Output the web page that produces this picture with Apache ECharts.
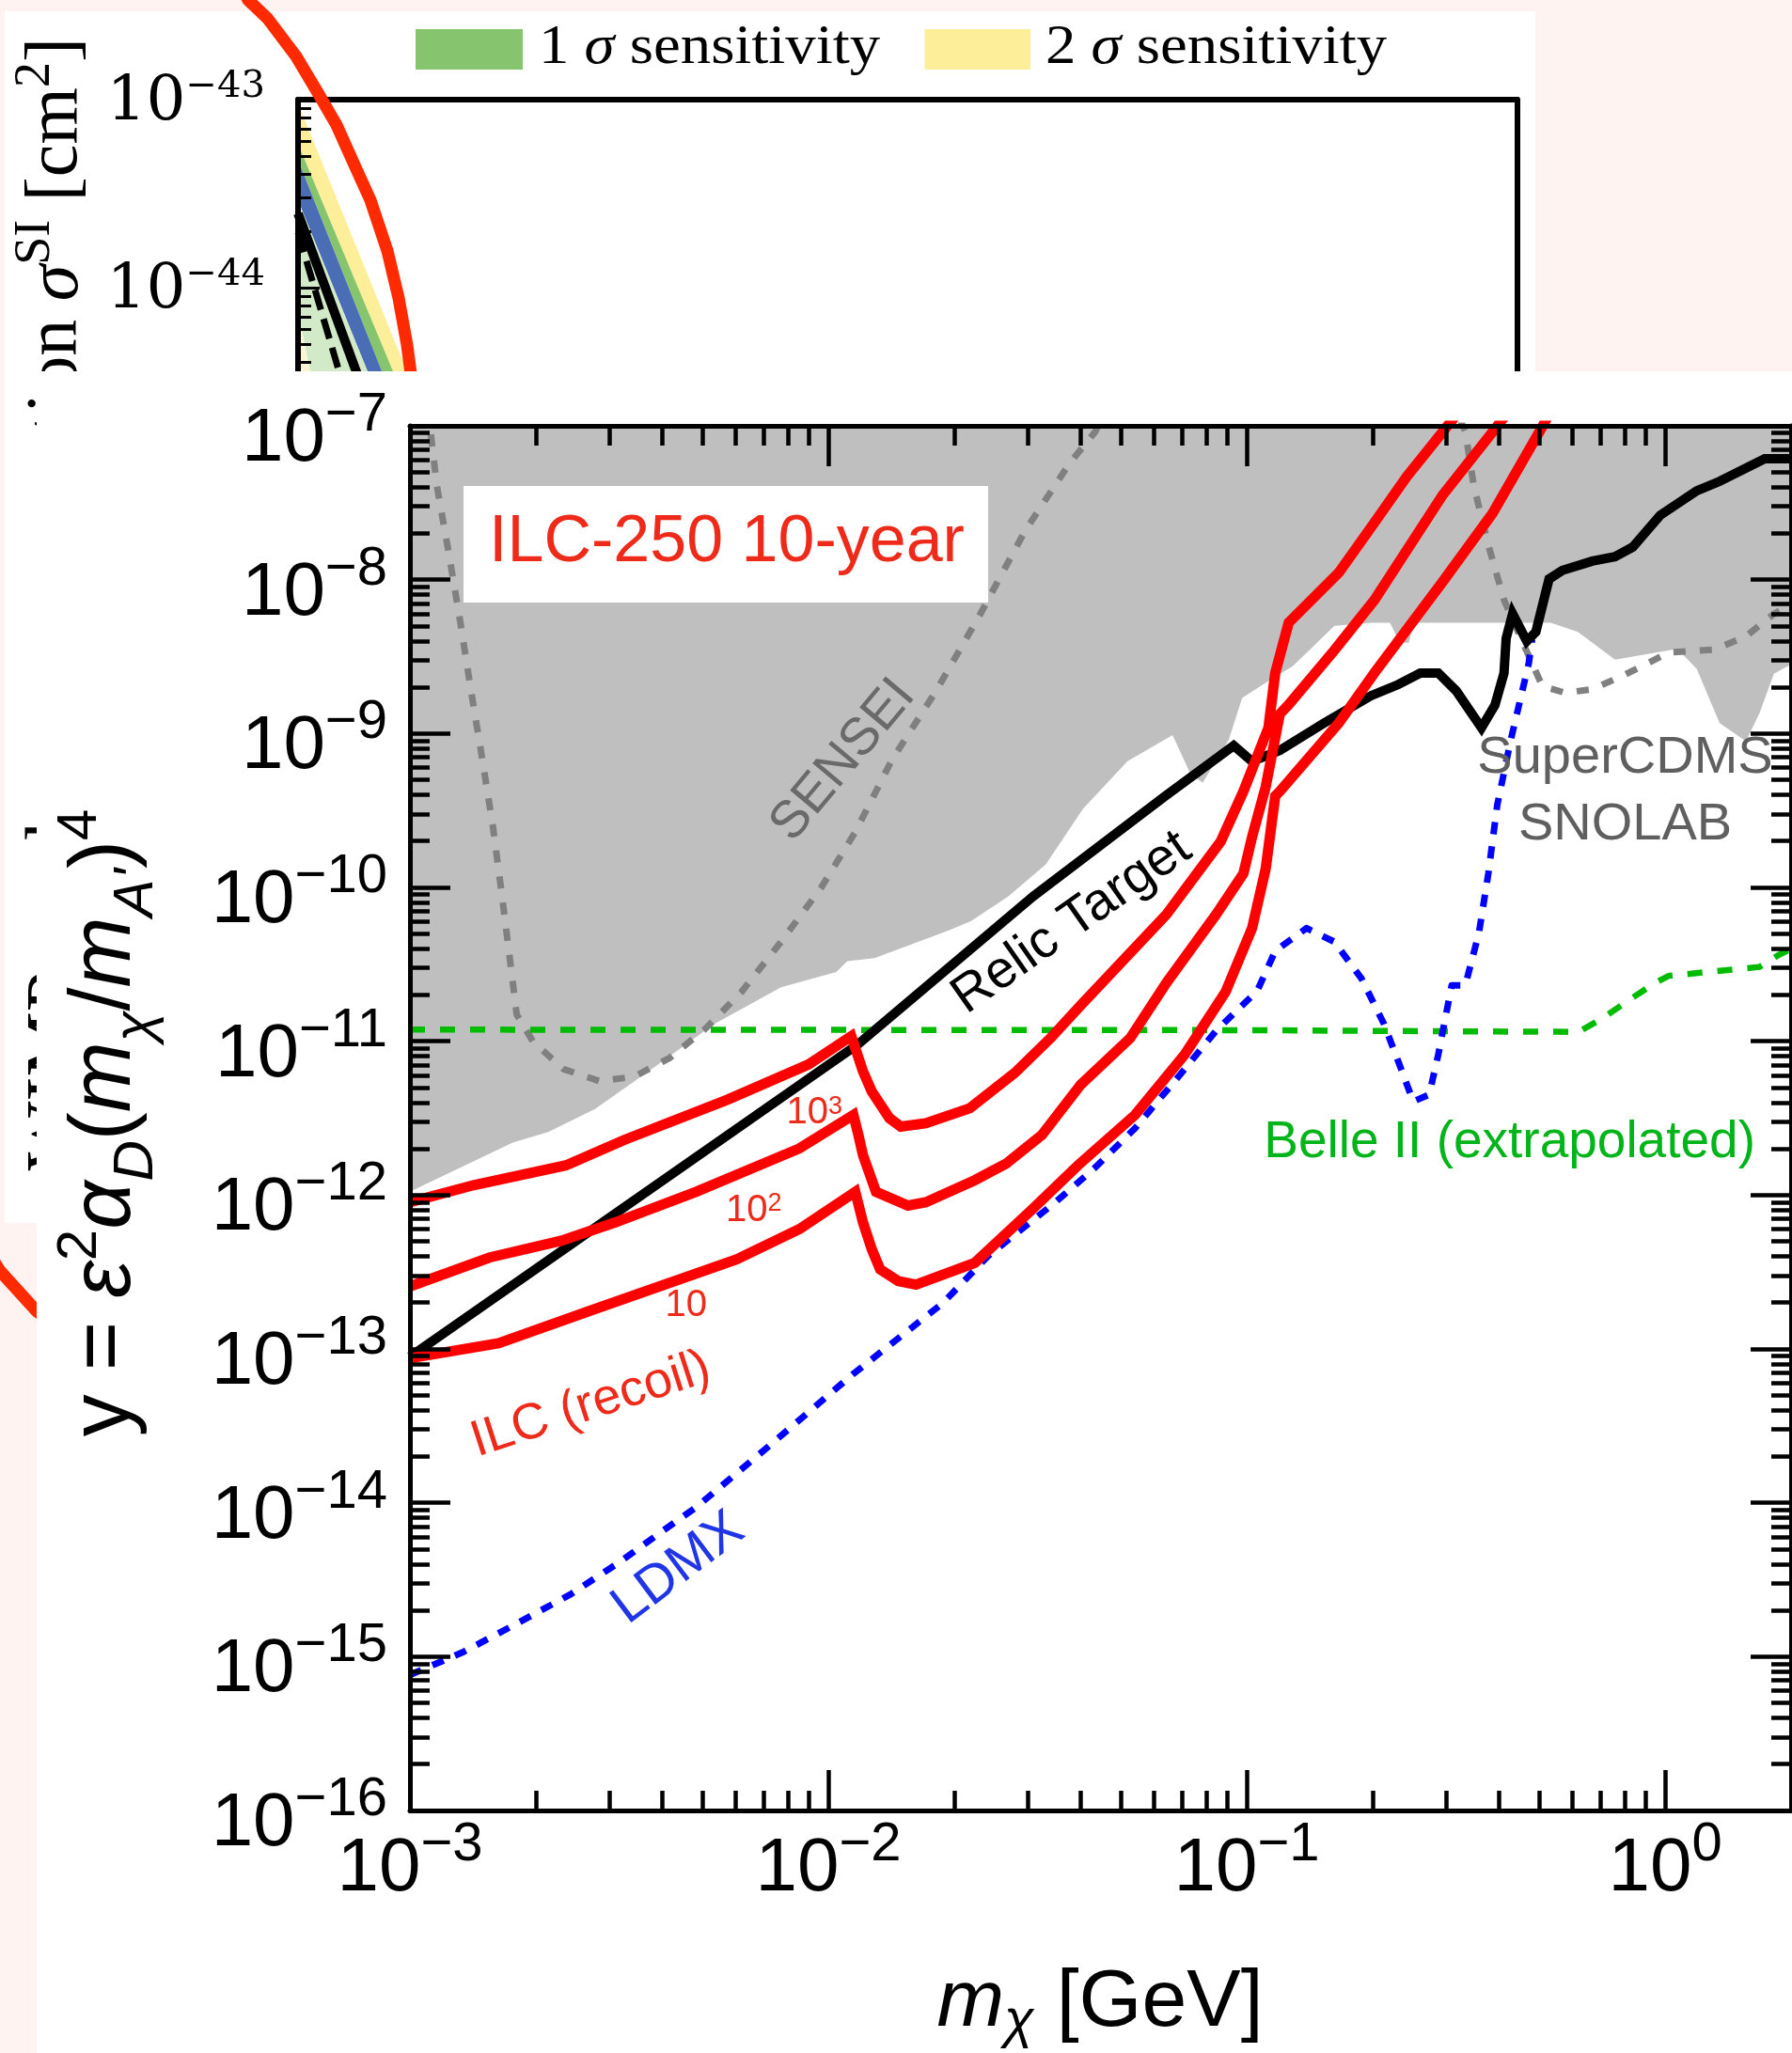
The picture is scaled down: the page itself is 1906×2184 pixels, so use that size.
<!DOCTYPE html>
<html>
<head>
<meta charset="utf-8">
<title>ILC-250 dark sector sensitivity</title>
<script src="https://cdn.jsdelivr.net/npm/echarts@6/dist/echarts.min.js"></script>
<style>
  html, body { margin: 0; padding: 0; background: #fef3f1; }
  #chart { width: 1906px; height: 2184px; }
</style>
</head>
<body>
<div id="chart"></div>
<script>
// ---------------- main panel: y = eps^2 alpha_D (m_chi/m_A')^4 vs m_chi ----------------
const massRange = [1e-3, 2];          // GeV
const yRange = [1e-16, 1e-7];

// lower edge of the existing exclusion (grey, filled up to the top of the plot)
const excludedLowerEdge = [
  [1.0e-3, 1.05e-12], [1.76e-3, 2.19e-12], [2.14e-3, 2.57e-12], [2.77e-3, 3.63e-12],
  [3.79e-3, 6.61e-12], [5.33e-3, 1.29e-11], [7.71e-3, 2.24e-11], [1.045e-2, 2.82e-11],
  [1.11e-2, 3.31e-11], [1.29e-2, 3.47e-11], [1.94e-2, 5.25e-11], [2.19e-2, 6.03e-11],
  [2.69e-2, 8.71e-11], [3.31e-2, 1.41e-10], [4.06e-2, 3.24e-10], [5.19e-2, 6.61e-10],
  [6.65e-2, 9.77e-10], [7.33e-2, 5.50e-10], [7.85e-2, 4.79e-10], [9.06e-2, 9.12e-10],
  [9.75e-2, 1.70e-9], [0.114, 2.24e-9], [0.129, 2.75e-9], [0.162, 5.01e-9],
  [0.198, 5.25e-9], [0.220, 5.25e-9], [0.232, 3.89e-9], [0.244, 3.89e-9],
  [0.251, 5.25e-9], [0.533, 5.25e-9], [0.619, 4.57e-9], [0.759, 3.02e-9],
  [1.07, 3.55e-9], [1.19, 2.63e-9], [1.35, 1.17e-9], [1.56, 8.91e-10],
  [1.68, 1.35e-9], [1.82, 2.45e-9], [2.0, 2.82e-9]
];

// SENSEI projection (grey dotted); runs off the top between the two branches
const senseiProjection = [
  [1.10e-3, 1.3e-7], [1.12e-3, 9.2e-8], [1.16e-3, 4.06e-8], [1.24e-3, 1.46e-8],
  [1.32e-3, 5.27e-9], [1.40e-3, 1.89e-9], [1.49e-3, 6.76e-10], [1.58e-3, 2.45e-10],
  [1.66e-3, 8.79e-11], [1.74e-3, 3.15e-11], [1.80e-3, 1.49e-11], [1.97e-3, 9.9e-12],
  [2.33e-3, 6.59e-12], [2.84e-3, 5.50e-12], [3.44e-3, 5.89e-12], [4.18e-3, 7.80e-12],
  [5.09e-3, 1.21e-11], [6.20e-3, 2.09e-11], [7.70e-3, 4.41e-11], [9.62e-3, 9.98e-11],
  [1.16e-2, 2.29e-10], [1.42e-2, 6.76e-10], [1.81e-2, 1.89e-9], [2.31e-2, 6.0e-9],
  [2.95e-2, 2.07e-8], [3.77e-2, 5.69e-8], [4.35e-2, 9.2e-8], [4.6e-2, 1.3e-7],
  [0.315, 1.3e-7], [0.333, 9.2e-8], [0.349, 4.06e-8], [0.378, 1.68e-8],
  [0.412, 7.39e-9], [0.450, 4.28e-9], [0.509, 2.03e-9], [0.577, 1.84e-9],
  [0.670, 1.94e-9], [0.798, 2.40e-9], [1.02, 3.36e-9], [1.31, 3.51e-9],
  [1.56, 4.28e-9], [1.82, 6.0e-9], [2.0, 6.9e-9]
];

// thermal relic target (black)
const relicTarget = [
  [1.0e-3, 8.9e-14], [1.18e-2, 9.6e-12], [3.09e-2, 8.75e-11], [6.38e-2, 3.91e-10],
  [9.31e-2, 8.35e-10], [0.103, 6.58e-10], [0.120, 7.78e-10], [0.153, 1.17e-9],
  [0.198, 1.76e-9], [0.230, 2.08e-9], [0.260, 2.47e-9], [0.287, 2.47e-9],
  [0.317, 1.89e-9], [0.364, 1.09e-9], [0.392, 1.53e-9], [0.412, 2.47e-9],
  [0.417, 4.16e-9], [0.432, 6.0e-9], [0.467, 3.98e-9], [0.491, 4.58e-9],
  [0.528, 1.01e-8], [0.568, 1.15e-8], [0.670, 1.32e-8], [0.759, 1.41e-8],
  [0.837, 1.63e-8], [0.973, 2.62e-8], [1.19, 3.78e-8], [1.35, 4.36e-8],
  [1.73, 6.11e-8], [2.0, 6.11e-8]
];

// ILC recoil reach, three curves (labelled 10^3, 10^2, 10)
const ilcRecoil1e3 = [
  [1.0e-3, 9.0e-13], [1.42e-3, 1.16e-12], [2.36e-3, 1.56e-12], [3.25e-3, 2.28e-12],
  [5.74e-3, 4.17e-12], [8.97e-3, 7.06e-12], [1.135e-2, 1.08e-11], [1.21e-2, 6.38e-12],
  [1.27e-2, 4.72e-12], [1.40e-2, 3.16e-12], [1.49e-2, 2.79e-12], [1.71e-2, 2.93e-12],
  [2.18e-2, 3.67e-12], [2.79e-2, 6.22e-12], [3.40e-2, 1.05e-11], [4.01e-2, 1.71e-11],
  [6.43e-2, 6.67e-11], [8.67e-2, 1.99e-10], [9.82e-2, 4.21e-10], [0.1127, 1.09e-9],
  [0.117, 2.48e-9], [0.126, 5.25e-9], [0.166, 1.11e-8], [0.202, 2.35e-8],
  [0.241, 4.66e-8], [0.301, 9.89e-8], [0.324, 1.26e-7]
];
const ilcRecoil1e2 = [
  [1.0e-3, 2.55e-13], [1.55e-3, 3.93e-13], [2.30e-3, 5.05e-13], [3.10e-3, 6.65e-13],
  [4.83e-3, 1.05e-12], [8.53e-3, 2.01e-12], [1.148e-2, 3.32e-12], [1.18e-2, 2.46e-12],
  [1.21e-2, 1.82e-12], [1.30e-2, 1.05e-12], [1.55e-2, 8.55e-13], [1.71e-2, 8.99e-13],
  [2.24e-2, 1.25e-12], [2.66e-2, 1.60e-12], [3.24e-2, 2.46e-12], [4.01e-2, 5.22e-12],
  [5.27e-2, 1.05e-11], [6.43e-2, 2.40e-11], [8.45e-2, 6.67e-11], [9.82e-2, 1.23e-10],
  [0.103, 2.13e-10], [0.111, 4.50e-10], [0.120, 1.34e-9], [0.126, 1.54e-9],
  [0.162, 3.48e-9], [0.202, 7.39e-9], [0.294, 3.55e-8], [0.396, 9.89e-8], [0.425, 1.26e-7]
];
const ilcRecoil1e1 = [
  [1.0e-3, 8.7e-14], [1.63e-3, 1.09e-13], [2.74e-3, 1.80e-13], [6.04e-3, 3.82e-13],
  [8.53e-3, 6.01e-13], [1.16e-2, 1.05e-12], [1.21e-2, 6.65e-13], [1.27e-2, 4.45e-13],
  [1.33e-2, 3.29e-13], [1.47e-2, 2.76e-13], [1.62e-2, 2.62e-13], [2.24e-2, 3.63e-13],
  [3.08e-2, 8.13e-13], [3.95e-2, 1.56e-12], [5.41e-2, 3.32e-12], [7.11e-2, 8.20e-12],
  [8.90e-2, 2.09e-11], [0.103, 5.43e-11], [0.111, 1.32e-10], [0.117, 3.93e-10],
  [0.120, 4.21e-10], [0.166, 1.17e-9], [0.202, 2.48e-9], [0.294, 9.70e-9],
  [0.387, 2.70e-8], [0.509, 9.89e-8], [0.534, 1.26e-7]
];

// LDMX projection (blue dotted)
const ldmxProjection = [
  [1.0e-3, 7.6e-16], [1.34e-3, 1.07e-15], [1.80e-3, 1.64e-15], [2.42e-3, 2.54e-15],
  [3.18e-3, 4.14e-15], [3.97e-3, 6.40e-15], [4.83e-3, 9.35e-15], [7.00e-3, 2.18e-14],
  [1.15e-2, 6.92e-14], [1.88e-2, 1.99e-13], [2.41e-2, 4.02e-13], [3.49e-2, 8.99e-13],
  [4.32e-2, 1.49e-12], [5.41e-2, 2.72e-12], [6.93e-2, 6.07e-12], [8.45e-2, 1.17e-11],
  [0.106, 2.13e-11], [0.117, 3.86e-11], [0.139, 5.43e-11], [0.162, 4.43e-11],
  [0.188, 2.56e-11], [0.213, 1.29e-11], [0.235, 6.38e-12], [0.250, 4.06e-12],
  [0.273, 4.49e-12], [0.287, 8.20e-12], [0.309, 2.31e-11], [0.333, 2.31e-11],
  [0.359, 5.07e-11], [0.378, 1.23e-10], [0.397, 3.43e-10], [0.427, 8.91e-10],
  [0.472, 2.84e-9], [0.481, 4.09e-9]
];

// Belle II (extrapolated), green dotted
const belle2Projection = [
  [1.0e-3, 1.19e-11], [0.1, 1.18e-11], [0.3, 1.16e-11], [0.621, 1.15e-11],
  [0.703, 1.39e-11], [0.817, 1.84e-11], [0.948, 2.40e-11], [1.02, 2.66e-11],
  [1.68, 3.04e-11], [1.86, 3.61e-11], [2.0, 3.99e-11]
];

// ---------------- panel behind: sigma^SI vs WIMP mass ----------------
const sigmaMassRange = [1, 1e4];       // GeV, data frame
const sigmaRange = [1e-51, 1e-43];     // cm^2, data frame
const sigmaFrameExp = [-49, -43];      // decades shown on the framed axis
const sigmaFrameMassExp = [1, 4];
const band2Sigma      = [[10, 9.55e-44], [19.56, 2.69e-45], [18.11, 2.69e-45], [10, 5.82e-44]];
const band1Sigma      = [[10, 5.82e-44], [18.11, 2.69e-45], [16.95, 2.69e-45], [10, 4.79e-44]];
const bandBlue        = [[10, 4.79e-44], [16.95, 2.69e-45], [15.65, 2.69e-45], [10, 2.92e-44]];
const bandLightGreen  = [[10, 2.92e-44], [15.65, 2.69e-45], [11.01, 2.69e-45], [10, 7.33e-45]];
const bandLightYellow = [[10, 7.33e-45], [11.01, 2.69e-45], [10, 2.69e-45]];
const medianLimit     = [[10, 2.48e-44], [14.60, 2.69e-45]];
const expectedLimit   = [[10, 1.97e-44], [13.12, 2.69e-45]];
const redContour = [
  [7.00, 4.52e-43], [7.54, 3.39e-43], [8.43, 2.69e-43], [9.89, 1.70e-43], [11.24, 1.07e-43],
  [12.44, 7.33e-44], [13.69, 4.62e-44], [15.07, 2.92e-44], [16.59, 1.57e-44], [17.68, 8.81e-45],
  [18.55, 4.95e-45], [19.26, 2.69e-45], [2.543, 3.02e-50], [2.273, 3.59e-50],
  [1.847, 5.89e-50], [1.661, 8.51e-50]
];

// ---------------- helpers ----------------
const SANS = 'Liberation Sans';
const SERIF = 'Liberation Serif';
const WIDE_SERIF = 'DejaVu Serif';
const deg = d => d * Math.PI / 180;

// positions of the 2..9 minor ticks, in decade (exponent) units
function minorExponents(lo, hi) {
  const out = [];
  for (let k = Math.floor(lo); k < Math.ceil(hi); k++) {
    for (let m = 2; m <= 9; m++) {
      const v = k + Math.log10(m);
      if (v > lo && v < hi) out.push(v);
    }
  }
  return out;
}
function expText(r) {
  return '{b|10}{s|' + (r < 0 ? '\u2212' + (-r) : String(r)) + '}';
}
function powerLabel(v) {
  const e = Math.log10(v), r = Math.round(e);
  if (Math.abs(e - r) > 1e-6) return '';
  return expText(r);
}

const sansRich = {
  b: { fontFamily: SANS, fontSize: 80, lineHeight: 80, padding: [15, 0, 0, 0], verticalAlign: 'top', color: '#000' },
  s: { fontFamily: SANS, fontSize: 58, lineHeight: 58, padding: [0, 0, 59, 0], verticalAlign: 'top', color: '#000' }
};
const serifRich = {
  b: { fontFamily: WIDE_SERIF, fontSize: 66, lineHeight: 66, padding: [3.5, 0, 0, 0], verticalAlign: 'top', color: '#000' },
  s: { fontFamily: WIDE_SERIF, fontSize: 40, lineHeight: 40, verticalAlign: 'top', color: '#000' }
};

const MAIN_Z = 20;
const lx = Math.log10(massRange[0]), hx = Math.log10(massRange[1]);
const ly = Math.log10(yRange[0]), hy = Math.log10(yRange[1]);

function logAxis(gridIndex, range, position, extra) {
  return Object.assign({
    type: 'log', gridIndex, min: range[0], max: range[1], position,
    axisLine: { show: true, onZero: false, lineStyle: { color: '#000', width: 5 } },
    axisTick: { show: true, inside: true, length: 43, lineStyle: { color: '#000', width: 4.5 } },
    axisLabel: { show: false },
    splitLine: { show: false }, minorTick: { show: false }, minorSplitLine: { show: false },
    z: MAIN_Z
  }, extra || {});
}
function minorAxis(gridIndex, lo, hi, position, values, len, width, z) {
  return {
    type: 'value', gridIndex, min: lo, max: hi, position,
    axisLine: { show: false, onZero: false },
    axisTick: { show: true, inside: true, length: len, customValues: values, lineStyle: { color: '#000', width } },
    axisLabel: { show: false }, splitLine: { show: false }, z
  };
}
function frameLine(dimPos, gridIndex, range, extra) {
  return Object.assign({
    type: 'value', gridIndex, min: range[0], max: range[1], position: dimPos,
    axisLine: { show: true, onZero: false, lineStyle: { color: '#000', width: 6 } },
    axisTick: { show: false }, axisLabel: { show: false }, splitLine: { show: false }, z: 3
  }, extra || {});
}

const xAxes = [
  logAxis(0, massRange, 'bottom', {
    axisLabel: { show: true, margin: 8, formatter: powerLabel, rich: sansRich }
  }),
  minorAxis(0, lx, hx, 'bottom', minorExponents(lx, hx), 21, 4.5, MAIN_Z),
  logAxis(0, massRange, 'top'),
  minorAxis(0, lx, hx, 'top', minorExponents(lx, hx), 21, 4.5, MAIN_Z),
  // panel behind: data frame (hidden) and the drawn box
  { type: 'log', gridIndex: 1, min: sigmaMassRange[0], max: sigmaMassRange[1], show: false },
  frameLine('top', 2, sigmaFrameMassExp)
];
const yAxes = [
  logAxis(0, yRange, 'left', {
    axisLabel: { show: true, margin: 24, formatter: powerLabel, rich: sansRich }
  }),
  minorAxis(0, ly, hy, 'left', minorExponents(ly, hy), 21, 4.5, MAIN_Z),
  logAxis(0, yRange, 'right'),
  minorAxis(0, ly, hy, 'right', minorExponents(ly, hy), 21, 4.5, MAIN_Z),
  // panel behind
  { type: 'log', gridIndex: 1, min: sigmaRange[0], max: sigmaRange[1], show: false },
  frameLine('left', 2, sigmaFrameExp, {
    interval: 1,
    axisTick: { show: true, inside: true, length: 23, lineStyle: { color: '#000', width: 3 } },
    axisLabel: { show: true, margin: 35, formatter: v => expText(Math.round(v)), rich: serifRich }
  }),
  minorAxis(2, sigmaFrameExp[0], sigmaFrameExp[1], 'left', minorExponents(sigmaFrameExp[0], sigmaFrameExp[1]), 14, 3, 3),
  frameLine('right', 2, sigmaFrameExp)
];

function polygonSeries(polys, xi, yi, z) {
  return {
    type: 'custom', xAxisIndex: xi, yAxisIndex: yi, z, silent: true,
    data: polys.map(p => p.pts[0]),
    renderItem: (params, api) => {
      const p = polys[params.dataIndex];
      return {
        type: 'polygon',
        shape: { points: p.pts.map(pt => api.coord(pt)) },
        style: { fill: p.color, stroke: null }
      };
    }
  };
}
function lineSeries(data, style, z, xi, yi, clip) {
  return {
    type: 'line', data, xAxisIndex: xi || 0, yAxisIndex: yi || 0, z,
    symbol: 'none', showSymbol: false, smooth: false, silent: true,
    clip: clip !== false, lineStyle: style
  };
}

const excludedPolygon = excludedLowerEdge.concat([[massRange[1], yRange[1]], [massRange[0], yRange[1]]]);

const series = [
  // panel behind
  polygonSeries([
    { pts: band2Sigma, color: '#fdee9a' },
    { pts: band1Sigma, color: '#86c46e' },
    { pts: bandBlue, color: '#4a6db5' },
    { pts: bandLightGreen, color: '#d3eac8' },
    { pts: bandLightYellow, color: '#fdf6d4' }
  ], 4, 4, 2),
  lineSeries(medianLimit, { color: '#000', width: 10, cap: 'butt' }, 2, 4, 4),
  lineSeries(expectedLimit, { color: '#000', width: 7, type: [22, 10], cap: 'butt' }, 2, 4, 4),
  lineSeries(redContour, { color: '#ff2a00', width: 13, join: 'round', cap: 'round' }, 4, 4, 4, false),

  // main panel
  polygonSeries([{ pts: excludedPolygon, color: '#bfbfbf' }], 0, 0, 11),
  lineSeries(senseiProjection, { color: '#808080', width: 7, type: [13, 15], cap: 'butt', join: 'round' }, 12),
  lineSeries(belle2Projection, { color: '#00bb00', width: 6.5, type: [16, 16], cap: 'butt', join: 'round' }, 13),
  lineSeries(ldmxProjection, { color: '#0000ff', width: 7, type: [13, 13], cap: 'butt', join: 'round' }, 13),
  lineSeries(relicTarget, { color: '#000', width: 10, join: 'miter', cap: 'butt' }, 14),
  lineSeries(ilcRecoil1e3, { color: '#ff0000', width: 11, join: 'miter', cap: 'butt' }, 15),
  lineSeries(ilcRecoil1e2, { color: '#ff0000', width: 11, join: 'miter', cap: 'butt' }, 15),
  lineSeries(ilcRecoil1e1, { color: '#ff0000', width: 11, join: 'miter', cap: 'butt' }, 15)
];

// ---------------- text and panels ----------------
const RED_TXT = '#ee2a1a';
function plainText(x, y, text, size, fill, rot, z, family) {
  return {
    type: 'text', x, y, rotation: rot || 0, z: z || 19, silent: true,
    style: { text, fontFamily: family || SANS, fontSize: size, fill, align: 'center', verticalAlign: 'middle' }
  };
}
function powerText(x, y, exp) {
  const rich = {
    b: { fontFamily: SANS, fontSize: 40, lineHeight: 40, verticalAlign: 'bottom', fill: RED_TXT },
    s: { fontFamily: SANS, fontSize: 27, lineHeight: 27, verticalAlign: 'top', fill: RED_TXT }
  };
  return {
    type: 'text', x, y, z: 19, silent: true,
    style: { text: exp ? '{b|10}{s|' + exp + '}' : '{b|10}', rich, align: 'left', verticalAlign: 'middle', fill: RED_TXT }
  };
}
const legendRich = {
  r: { fontFamily: SERIF, fontSize: 60, fill: '#000' },
  i: { fontFamily: SERIF, fontSize: 60, fontStyle: 'italic', fill: '#000' }
};

const graphics = [
  // panel behind
  { type: 'rect', z: 0, silent: true, shape: { x: 5, y: 12, width: 1628, height: 1289 }, style: { fill: '#ffffff' } },
  { type: 'rect', z: 2, silent: true, shape: { x: 442, y: 31, width: 114, height: 43 }, style: { fill: '#86c46e' } },
  { type: 'rect', z: 2, silent: true, shape: { x: 983.5, y: 31, width: 112.5, height: 43 }, style: { fill: '#fdee9a' } },
  { type: 'text', z: 2, silent: true, x: 573, y: 51, scaleX: 1.08,
    style: { text: '{r|1 }{i|\u03c3}{r| sensitivity}', rich: legendRich, align: 'left', verticalAlign: 'middle' } },
  { type: 'text', z: 2, silent: true, x: 1112, y: 51, scaleX: 1.08,
    style: { text: '{r|2 }{i|\u03c3}{r| sensitivity}', rich: legendRich, align: 'left', verticalAlign: 'middle' } },
  { type: 'text', z: 2, silent: true, x: 61, y: 40, rotation: Math.PI / 2,
    style: {
      text: '{t|WIMP-nucleon cross section }{it|\u03c3}{sup|SI}{t| [cm}{sup|2}{t|]}',
      align: 'right', verticalAlign: 'middle',
      rich: {
        t: { fontFamily: SERIF, fontSize: 78, lineHeight: 100, fill: '#000' },
        it: { fontFamily: SERIF, fontSize: 78, lineHeight: 100, fontStyle: 'italic', fill: '#000' },
        sup: { fontFamily: SERIF, fontSize: 54, lineHeight: 54, verticalAlign: 'top', fill: '#000' }
      }
    } },

  // main panel background
  { type: 'rect', z: 10, silent: true, shape: { x: 39, y: 395, width: 1867, height: 1789 }, style: { fill: '#ffffff' } },

  // title box
  { type: 'rect', z: 18, silent: true, shape: { x: 493, y: 517, width: 558, height: 124 }, style: { fill: '#ffffff' } },
  plainText(773, 578, 'ILC-250 10-year', 70, RED_TXT),

  // curve annotations
  plainText(897, 809, 'SENSEI', 56, '#6a6a6a', deg(50)),
  plainText(1140, 982, 'Relic Target', 56, '#000000', deg(35)),
  plainText(1728.5, 807, 'SuperCDMS', 56, '#5f5f5f'),
  plainText(1728.5, 877.5, 'SNOLAB', 56, '#5f5f5f'),
  plainText(1605.6, 1215.5, 'Belle II (extrapolated)', 55, '#00b419'),
  plainText(628.5, 1494.6, 'ILC (recoil)', 54, RED_TXT, deg(18)),
  plainText(721.6, 1668.5, 'LDMX', 57, '#1f35e6', deg(37)),
  powerText(836.5, 1184, '3'),
  powerText(772, 1287.5, '2'),
  powerText(707.4, 1389.3, ''),

  // axis titles
  { type: 'text', z: 19, silent: true, x: 112.5, y: 1194.5, rotation: Math.PI / 2,
    style: {
      text: '{t|y = }{it|\u03b5}{sup|2}{it|\u03b1}{sub|D}{t|(}{it|m}{sub|\u03c7}{t|/}{it|m}{sub|A\'}{t|)}{sup|4}',
      align: 'center', verticalAlign: 'middle',
      rich: {
        t: { fontFamily: SANS, fontSize: 90, lineHeight: 130, fill: '#000' },
        it: { fontFamily: SANS, fontSize: 90, lineHeight: 130, fontStyle: 'italic', fill: '#000' },
        sup: { fontFamily: SANS, fontSize: 60, lineHeight: 60, padding: [8, 0, 0, 0], verticalAlign: 'top', fill: '#000' },
        sub: { fontFamily: SANS, fontSize: 60, lineHeight: 60, padding: [0, 0, 2, 0], fontStyle: 'italic', verticalAlign: 'bottom', fill: '#000' }
      }
    } },
  { type: 'text', z: 19, silent: true, x: 1170, y: 2131,
    style: {
      text: '{it|m}{sub|\u03c7}{t| [GeV]}',
      align: 'center', verticalAlign: 'middle',
      rich: {
        t: { fontFamily: SANS, fontSize: 86, lineHeight: 110, fill: '#000' },
        it: { fontFamily: SANS, fontSize: 86, lineHeight: 110, fontStyle: 'italic', fill: '#000' },
        sub: { fontFamily: SANS, fontSize: 58, lineHeight: 58, padding: [0, 0, 6, 0], fontStyle: 'italic', verticalAlign: 'bottom', fill: '#000' }
      }
    } }
];

const chart = echarts.init(document.getElementById('chart'), null, { renderer: 'canvas', width: 1906, height: 2184 });
chart.setOption({
  animation: false,
  backgroundColor: '#fef3f1',
  textStyle: { fontFamily: SANS },
  grid: [
    { left: 436, top: 453, right: 1, bottom: 258, containLabel: false, outerBoundsMode: 'none' },
    // data frame of the panel behind (extends past the drawn box so its annotation loop is kept whole)
    { left: -115.2, top: 106, width: 1728.8, height: 1600, containLabel: false, outerBoundsMode: 'none' },
    // drawn box of the panel behind
    { left: 317, top: 106, width: 1296.6, height: 1200, containLabel: false, outerBoundsMode: 'none' }
  ],
  xAxis: xAxes,
  yAxis: yAxes,
  series,
  graphic: { elements: graphics }
});
</script>
</body>
</html>
